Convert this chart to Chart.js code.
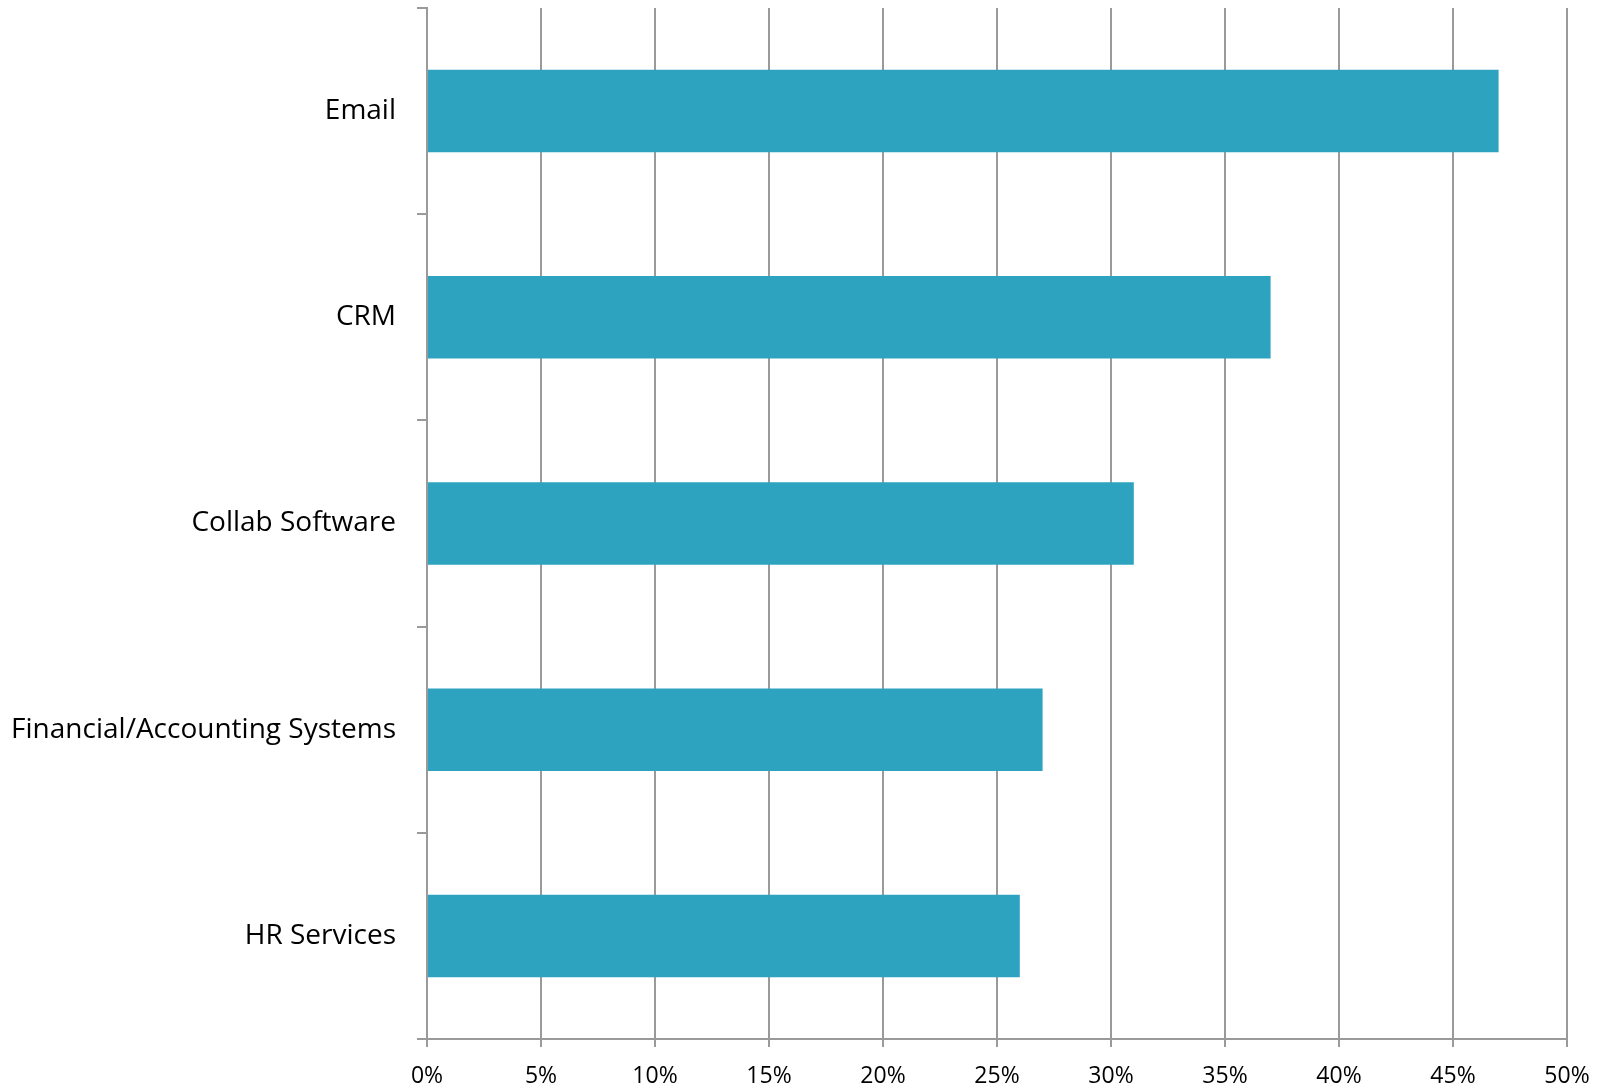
<!DOCTYPE html>
<html>
<head>
<meta charset="utf-8">
<script src="https://cdn.jsdelivr.net/npm/chart.js@4"></script>
<style>
  html, body { margin: 0; padding: 0; background: #fff; }
  #wrap { width: 1602px; height: 1089px; }
</style>
</head>
<body>
<div id="wrap"><canvas id="bar-chart" width="1602" height="1089"></canvas></div>
<script>
const categories = ["Email", "CRM", "Collab Software", "Financial/Accounting Systems", "HR Services"]
const share_values = [47, 37, 31, 27, 26]
const x_ticks = [0, 5, 10, 15, 20, 25, 30, 35, 40, 45, 50]

const bar_color = "#2DA3BF"
const grid_color = "#9a9a9a"

const ctx = document.getElementById("bar-chart").getContext('2d')

const data = {
    labels: categories,
    datasets: [
        {
            label: 'Share',
            data: share_values,
            backgroundColor: bar_color,
            borderWidth: 0,
            barPercentage: 0.4,
            categoryPercentage: 1.0,
        }
    ]
}

const config = {
    type: 'bar',
    data: data,
    options: {
        indexAxis: 'y',
        responsive: false,
        animation: false,
        layout: {
            padding: {top: 8, right: 35, left: 0, bottom: 0}
        },
        plugins: {
            legend: {display: false},
            tooltip: {enabled: false}
        },
        scales: {
            x: {
                min: x_ticks[0],
                max: x_ticks[x_ticks.length - 1],
                afterBuildTicks: function (scale) {
                    scale.ticks = x_ticks.map(v => ({value: v}))
                },
                afterFit: function (scale) {
                    scale.height = 50
                    scale.paddingLeft = 0
                    scale.paddingRight = 0
                },
                grid: {color: grid_color, lineWidth: 2, tickLength: 8},
                border: {color: grid_color, width: 2},
                ticks: {
                    color: '#000',
                    padding: 16,
                    maxRotation: 0,
                    font: {family: "'Open Sans'", size: 23},
                    callback: function (value) {
                        return value + '%'
                    }
                }
            },
            y: {
                afterFit: function (scale) {
                    scale.width = 427
                    // keep the plot top at the layout padding
                    scale.paddingTop = 0
                    scale.paddingBottom = 0
                },
                grid: {color: grid_color, lineWidth: 2, tickLength: 10, offset: true, drawOnChartArea: false},
                border: {color: grid_color, width: 2},
                ticks: {
                    color: '#000',
                    padding: 21,
                    font: {family: "'Open Sans'", size: 28}
                }
            }
        }
    }
}

const bar_chart = new Chart(ctx, config)
</script>
</body>
</html>
